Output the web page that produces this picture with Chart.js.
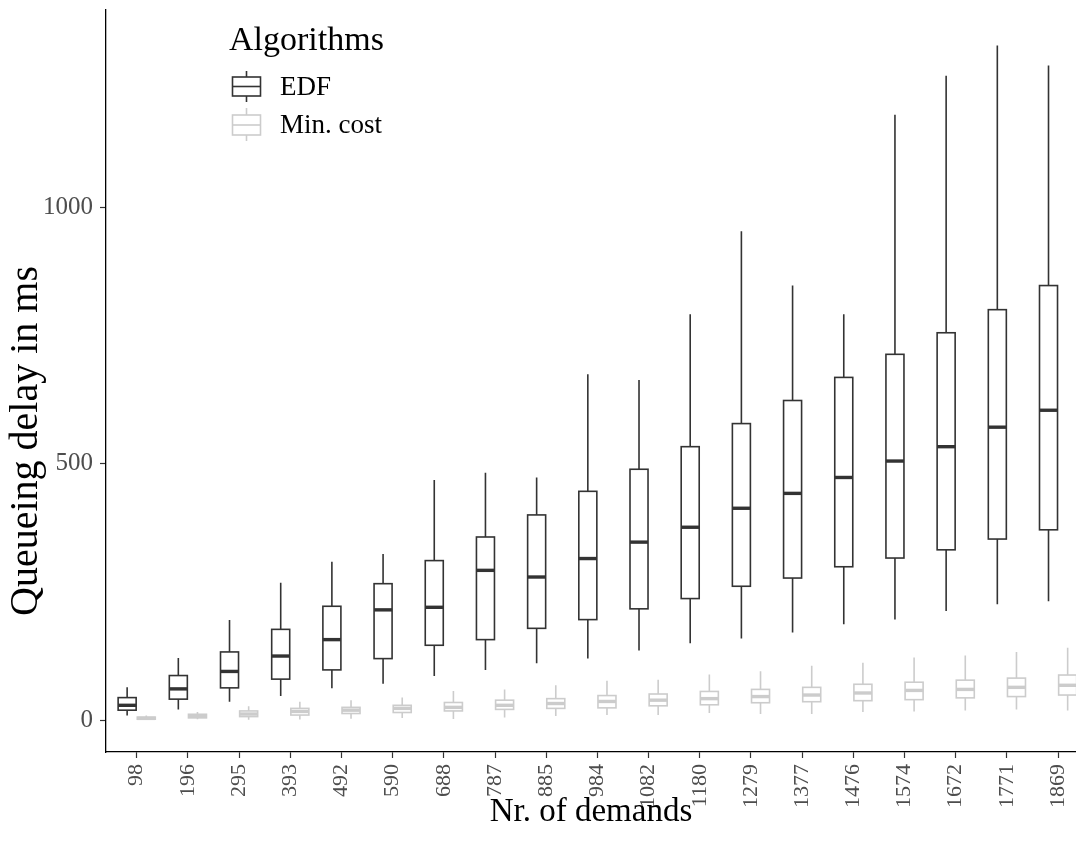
<!DOCTYPE html>
<html>
<head>
<meta charset="utf-8">
<title>Queueing delay by number of demands</title>
<script src="https://cdn.jsdelivr.net/npm/chart.js@4.4.1/dist/chart.umd.min.js"></script>
<style>
  html, body { margin: 0; padding: 0; background: #ffffff; overflow: hidden; }
  #c { display: block; }
</style>
</head>
<body>
<canvas id="c" width="1076" height="843"></canvas>
<script>
// Number of demands (x categories)
const categories = ['98', '196', '295', '393', '492', '590', '688', '787', '885', '984',
                    '1082', '1180', '1279', '1377', '1476', '1574', '1672', '1771', '1869'];

// EDF: lower whisker, first quartile, median, third quartile, upper whisker (ms)
const edfLow  = [9, 21, 36, 47, 62, 71, 86, 98, 111, 120, 136, 150, 159, 171, 187, 196, 213, 226, 232];
const edfQ1   = [19.5, 41, 63, 80, 98, 120, 146, 157, 179, 196, 217, 237, 261, 277, 299, 316, 332, 353, 371];
const edfMed  = [29, 61, 95, 125, 157, 215, 220, 292, 279, 315, 347, 376, 413, 442, 473, 505, 533, 571, 604];
const edfQ3   = [44, 87, 133, 177, 222, 266, 311, 357, 400, 446, 489, 533, 578, 623, 668, 713, 755, 800, 847];
const edfHigh = [64, 121, 195, 268, 309, 324, 468, 482, 473, 674, 663, 791, 953, 847, 791, 1180, 1256, 1315, 1276];

// Min. cost: lower whisker, first quartile, median, third quartile, upper whisker (ms)
const minLow  = [0.5, 2, 1, 1.5, 3, 4.5, 2.5, 5, 8, 10, 10, 14, 12, 12, 16, 17, 19, 21, 19];
const minQ1   = [2, 4.5, 7, 10, 13, 15, 18, 21, 23, 24, 28, 30, 34, 36, 38, 40, 43.5, 46, 49];
const minMed  = [3.5, 8, 12, 17, 19.5, 23, 25, 29, 32.5, 36.5, 39, 42, 46, 49, 53, 58, 60, 64, 68];
const minQ3   = [6, 11.5, 18, 23, 25, 29, 34.5, 39, 42, 48, 51, 56, 60, 64, 70, 74, 78, 82, 88];
const minHigh = [9, 16, 27, 36, 39, 44, 57, 60, 68, 77, 79, 89, 95.5, 106, 112, 122, 126, 133, 141];

// Y axis tick values
const yTicks = [0, 500, 1000];

const SERIF = '"Liberation Serif", "DejaVu Serif", serif';
const DODGE = 0.187;      // horizontal shift of each algorithm inside a category
const HALF_BOX = 0.176;   // half box width in category units

const series = [
  { label: 'EDF', color: '#333333', offset: -DODGE,
    low: edfLow, q1: edfQ1, med: edfMed, q3: edfQ3, high: edfHigh },
  { label: 'Min. cost', color: '#cccccc', offset: DODGE,
    low: minLow, q1: minQ1, med: minMed, q3: minQ3, high: minHigh }
];

// Whiskers and boxes, drawn under the median marks
const boxPlugin = {
  id: 'boxes',
  beforeDatasetsDraw(chart) {
    const { ctx } = chart;
    const xs = chart.scales.x, ys = chart.scales.y;
    ctx.save();
    series.forEach(s => {
      ctx.strokeStyle = s.color;
      ctx.lineWidth = 1.6;
      s.med.forEach((m, i) => {
        const pos = i + s.offset;
        const cx = xs.getPixelForValue(pos);
        const l = xs.getPixelForValue(pos - HALF_BOX);
        const r = xs.getPixelForValue(pos + HALF_BOX);
        const yLow = ys.getPixelForValue(s.low[i]);
        const yQ1 = ys.getPixelForValue(s.q1[i]);
        const yQ3 = ys.getPixelForValue(s.q3[i]);
        const yHigh = ys.getPixelForValue(s.high[i]);
        ctx.beginPath();
        ctx.moveTo(cx, yHigh); ctx.lineTo(cx, yQ3);
        ctx.moveTo(cx, yQ1); ctx.lineTo(cx, yLow);
        ctx.stroke();
        ctx.fillStyle = '#ffffff';
        ctx.fillRect(l, yQ3, r - l, yQ1 - yQ3);
        ctx.strokeRect(l, yQ3, r - l, yQ1 - yQ3);
      });
    });
    ctx.restore();
  },
  afterDraw(chart) {
    const { ctx } = chart;
    ctx.save();
    // Y axis title
    ctx.fillStyle = '#000000';
    ctx.font = '40px ' + SERIF;
    ctx.textAlign = 'center';
    ctx.textBaseline = 'middle';
    ctx.translate(26, 441);
    ctx.rotate(-Math.PI / 2);
    ctx.fillText('Queueing delay in ms', 0, 0);
    ctx.restore();

    // Legend
    ctx.save();
    ctx.fillStyle = '#000000';
    ctx.textAlign = 'left';
    ctx.textBaseline = 'alphabetic';
    ctx.font = '34px ' + SERIF;
    ctx.fillText('Algorithms', 229, 50);
    const rows = [
      { s: series[0], wTop: 71, top: 77, mid: 86.5, bottom: 96, wBot: 102, base: 95 },
      { s: series[1], wTop: 108, top: 115, mid: 125, bottom: 135, wBot: 141, base: 133 }
    ];
    rows.forEach(rw => {
      ctx.strokeStyle = rw.s.color;
      ctx.lineWidth = 1.6;
      ctx.beginPath();
      ctx.moveTo(246.5, rw.wTop); ctx.lineTo(246.5, rw.top);
      ctx.moveTo(246.5, rw.bottom); ctx.lineTo(246.5, rw.wBot);
      ctx.stroke();
      ctx.strokeRect(232.5, rw.top, 28, rw.bottom - rw.top);
      ctx.beginPath();
      ctx.moveTo(232.5, rw.mid); ctx.lineTo(260.5, rw.mid);
      ctx.stroke();
      ctx.fillStyle = '#000000';
      ctx.font = '27px ' + SERIF;
      ctx.fillText(rw.s.label, 280, rw.base);
    });
    ctx.restore();
  }
};

const datasets = series.map(s => ({
  label: s.label,
  data: s.med.map((m, i) => ({ x: i + s.offset, y: m })),
  pointStyle: 'line',
  pointRadius: 9,
  pointHoverRadius: 9,
  pointBorderWidth: 3.4,
  borderColor: s.color,
  backgroundColor: s.color,
  showLine: false
}));

new Chart(document.getElementById('c'), {
  type: 'scatter',
  data: { datasets },
  plugins: [boxPlugin],
  options: {
    responsive: false,
    animation: false,
    events: [],
    layout: { autoPadding: false, padding: { top: 10, right: 0, bottom: 0, left: 0 } },
    plugins: { legend: { display: false }, tooltip: { enabled: false } },
    scales: {
      x: {
        type: 'linear',
        min: -0.6,
        max: 18.35,
        afterBuildTicks(scale) { scale.ticks = categories.map((c, i) => ({ value: i })); },
        afterFit(scale) {
          scale.height = 91;
          scale.paddingLeft = 0; scale.paddingRight = 0;
          scale.paddingTop = 0; scale.paddingBottom = 0;
        },
        grid: { drawOnChartArea: false, drawTicks: true, tickLength: 6, tickColor: '#333333', tickWidth: 1.2 },
        border: { display: true, color: '#000000', width: 1.3 },
        ticks: {
          autoSkip: false,
          minRotation: 90,
          maxRotation: 90,
          padding: 6,
          color: '#4d4d4d',
          font: { family: SERIF, size: 22 },
          callback: (v) => categories[Math.round(v)]
        },
        title: {
          display: true,
          text: 'Nr. of demands',
          color: '#000000',
          font: { family: SERIF, size: 33 },
          padding: { top: 0, bottom: 11 }
        }
      },
      y: {
        type: 'linear',
        min: -62,
        max: 1384,
        afterBuildTicks(scale) { scale.ticks = yTicks.map(v => ({ value: v })); },
        afterFit(scale) {
          scale.width = 106;
          scale.paddingLeft = 0; scale.paddingRight = 0;
          scale.paddingTop = 0; scale.paddingBottom = 0;
        },
        grid: { drawOnChartArea: false, drawTicks: true, tickLength: 6, tickColor: '#333333', tickWidth: 1.2 },
        border: { display: true, color: '#000000', width: 1.3 },
        ticks: {
          padding: 7,
          color: '#4d4d4d',
          font: { family: SERIF, size: 25 },
          callback: (v) => String(v)
        }
      }
    }
  }
});
</script>
</body>
</html>
